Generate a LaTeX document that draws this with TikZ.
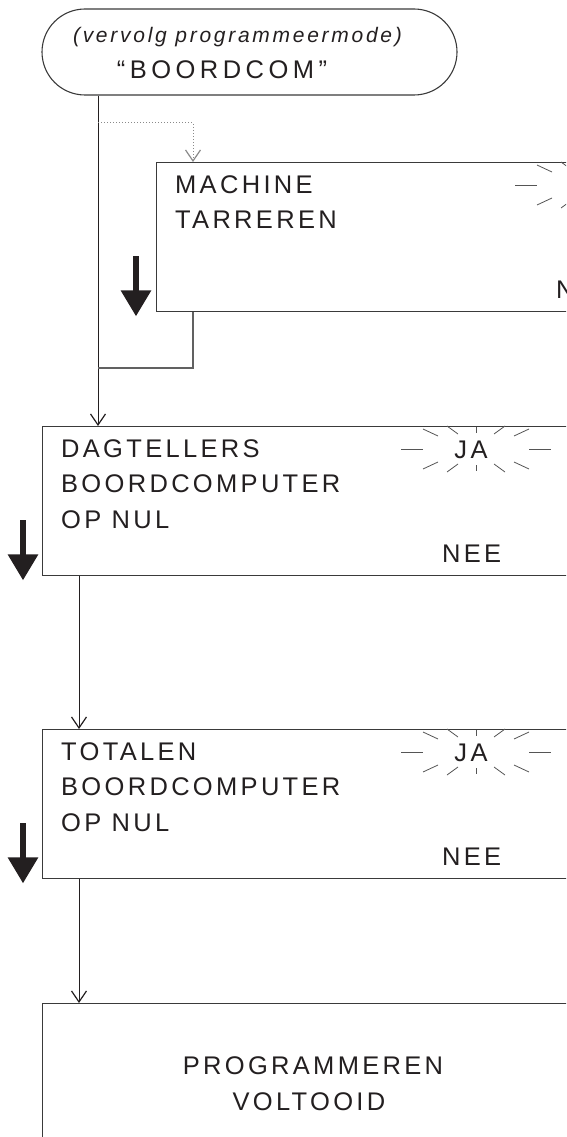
\documentclass[tikz,border=0pt]{standalone}
\usepackage{fontspec}
\setmainfont{Liberation Sans}
\newfontfamily\lblfont{Liberation Sans}[LetterSpace=13]
\newfontfamily\widefont{Liberation Sans}[LetterSpace=17.5]
\usetikzlibrary{arrows.meta}
\definecolor{ink}{HTML}{231F20}
\definecolor{frame}{HTML}{3A3A3A}
\definecolor{raycol}{HTML}{555555}
\definecolor{dotcol}{HTML}{8A8A8A}
\newcommand\mystarburst[1]{%
  \foreach \a/\b/\c/\d in {-75/0/-53/0, 53/0/75/0,
      -53/-20/-38/-13, -53/20/-38/13, 38/-13/53/-20, 38/13/53/20,
      -29/-23/-18/-15, -29/23/-18/15, 18/-15/29/-23, 18/15/29/23,
      0/-22/0/-16, 0/16/0/22}
    {\draw[raystyle] ([shift={(\a,\b)}]#1) -- ([shift={(\c,\d)}]#1);}%
}
\begin{document}
\begin{tikzpicture}[x=1pt,y=-1pt,
  lbl/.style={font=\lblfont\fontsize{25.5}{30}\selectfont, text=ink, inner sep=0pt},
  widelbl/.style={font=\widefont\fontsize{25.5}{30}\selectfont, text=ink, inner sep=0pt},
  note/.style={font=\lblfont\itshape\fontsize{21}{25}\selectfont, text=ink, inner sep=0pt},
  box/.style={draw=frame, line width=1.4pt, minimum width=600pt, minimum height=149pt, anchor=north west, inner sep=0pt},
  term/.style={draw=frame, line width=1.1pt, rounded corners=43pt, minimum width=415pt, minimum height=86pt, inner sep=0pt},
  flow/.style={draw=ink, line width=1pt},
  flowarrow/.style={flow, -{Straight Barb[length=11pt,width=15pt,line width=1.2pt]}},
  dotarrow/.style={draw=dotcol, line width=1pt, dash pattern=on 1pt off 2pt, -{Straight Barb[length=11pt,width=15pt,line width=1.2pt,sep=0pt]}},
  returnline/.style={draw=frame!80, line width=1.1pt},
  raystyle/.style={draw=raycol, line width=0.8pt},
  bigarrow/.style={draw=ink, line width=6pt, -{Triangle[length=26pt,width=29pt]}}
]
\useasboundingbox (0,0) rectangle (566,1137);
\clip (0,0) rectangle (566,1137);

% start terminator
\node[term] (start) at (249.5,52) {};
\node[note, anchor=base] (startA) at (237.5,43) {(vervolg programmeermode)};
\node[widelbl, anchor=base] (startB) at (222,79) {“BOORDCOM”};

% boxes
\node[box] (mach) at (156,162) {};
\node[box] (dag) at (42,426) {};
\node[box] (tot) at (42,729) {};
\node[box, minimum height=250pt] (prog) at (42,1003) {};

% MACHINE TARREREN
\node[lbl, anchor=base west] (mach1) at ([shift={(19,31)}]mach.north west) {MACHINE};
\node[lbl, anchor=base west] (mach2) at ([shift={(19,66)}]mach.north west) {TARREREN};
\node[lbl, anchor=base west] (machN) at ([shift={(400,136)}]mach.north west) {NEE};
\coordinate (machS) at ([shift={(434,23)}]mach.north west);
\node[lbl, anchor=base] (machJ) at ([shift={(-5,9)}]machS) {JA};
\mystarburst{machS}

% DAGTELLERS
\node[lbl, anchor=base west] (dag1) at ([shift={(19,31)}]dag.north west) {DAGTELLERS};
\node[lbl, anchor=base west] (dag2) at ([shift={(19,66.5)}]dag.north west) {BOORDCOMPUTER};
\node[lbl, anchor=base west] (dag3) at ([shift={(19,102)}]dag.north west) {OP NUL};
\node[lbl, anchor=base west] (dagN) at ([shift={(400,136)}]dag.north west) {NEE};
\coordinate (dagS) at ([shift={(434,23)}]dag.north west);
\node[lbl, anchor=base] (dagJ) at ([shift={(-5,9)}]dagS) {JA};
\mystarburst{dagS}

% TOTALEN
\node[lbl, anchor=base west] (tot1) at ([shift={(19,31)}]tot.north west) {TOTALEN};
\node[lbl, anchor=base west] (tot2) at ([shift={(19,66.5)}]tot.north west) {BOORDCOMPUTER};
\node[lbl, anchor=base west] (tot3) at ([shift={(19,102)}]tot.north west) {OP NUL};
\node[lbl, anchor=base west] (totN) at ([shift={(400,136)}]tot.north west) {NEE};
\coordinate (totS) at ([shift={(434,23)}]tot.north west);
\node[lbl, anchor=base] (totJ) at ([shift={(-5,9)}]totS) {JA};
\mystarburst{totS}

% PROGRAMMEREN VOLTOOID
\node[lbl, anchor=base] (prog1) at (313,1074) {PROGRAMMEREN};
\node[lbl, anchor=base] (prog2) at (309,1110) {VOLTOOID};

% connectors
\coordinate (mainx) at (98,0);
\coordinate (machx) at (193,0);
\coordinate (leftx) at (79,0);
\coordinate (tap) at (98,123);
\coordinate (join) at (98,368);
\draw[flowarrow] (start.south -| mainx) -- (dag.north -| mainx);
\draw[dotarrow] (tap) -| (mach.north -| machx);
\draw[returnline] (mach.south -| machx) |- (join);
\draw[flowarrow] (dag.south -| leftx) -- (tot.north -| leftx);
\draw[flowarrow] (tot.south -| leftx) -- (prog.north -| leftx);

% thick scroll arrows
\draw[bigarrow] ([shift={(-20,-56)}]mach.south west) -- ([shift={(-20,4)}]mach.south west);
\draw[bigarrow] ([shift={(-19,-56)}]dag.south west) -- ([shift={(-19,4)}]dag.south west);
\draw[bigarrow] ([shift={(-19,-56)}]tot.south west) -- ([shift={(-19,4)}]tot.south west);
\end{tikzpicture}
\end{document}
